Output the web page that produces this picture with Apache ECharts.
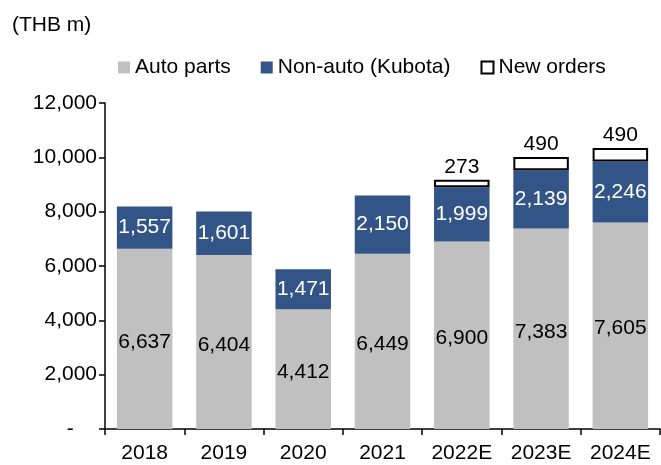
<!DOCTYPE html>
<html>
<head>
<meta charset="utf-8">
<script src="https://cdn.jsdelivr.net/npm/echarts@6/dist/echarts.min.js"></script>
<style>
  html, body { margin: 0; padding: 0; background: #fff; }
  #chart { width: 661px; height: 465px; }
</style>
</head>
<body>
<div id="chart"></div>
<script>
const years = ['2018', '2019', '2020', '2021', '2022E', '2023E', '2024E'];
const autoParts = [6637, 6404, 4412, 6449, 6900, 7383, 7605];
const nonAuto = [1557, 1601, 1471, 2150, 1999, 2139, 2246];
const newOrders = [null, null, null, null, 273, 490, 490];
const yTicks = [0, 2000, 4000, 6000, 8000, 10000, 12000];

const font = 'Liberation Sans, Arial, sans-serif';
const fs = 21;
const fmt = v => v.toLocaleString('en-US');

const chart = echarts.init(document.getElementById('chart'));

chart.setOption({
  animation: false,
  textStyle: { fontFamily: font },
  title: {
    text: '(THB m)',
    left: 7,
    top: 10,
    textStyle: { fontFamily: font, fontSize: fs, fontWeight: 'normal', color: '#000' }
  },
  legend: {
    top: 52,
    left: 113,
    icon: 'rect',
    itemWidth: 12,
    itemHeight: 12,
    itemGap: 30,
    textStyle: { fontFamily: font, fontSize: fs, color: '#000' },
    data: ['Auto parts', 'Non-auto (Kubota)', 'New orders']
  },
  grid: { left: 105, right: 1, top: 103, bottom: 36, containLabel: false },
  xAxis: {
    type: 'category',
    data: years,
    axisLine: { lineStyle: { color: '#000', width: 1.5 } },
    axisTick: { show: true, length: 6, lineStyle: { color: '#000', width: 1.5 } },
    axisLabel: { color: '#000', fontSize: fs, margin: 14, fontFamily: font }
  },
  yAxis: {
    type: 'value',
    min: yTicks[0],
    max: yTicks[yTicks.length - 1],
    interval: 2000,
    splitLine: { show: false },
    axisLine: { show: true, lineStyle: { color: '#000', width: 1.5 } },
    axisTick: { show: true, length: 6, lineStyle: { color: '#000', width: 1.5 } },
    axisLabel: {
      color: '#000',
      fontSize: fs,
      margin: 8,
      fontFamily: font,
      formatter: v => (v === 0 ? '-    ' : fmt(v))
    }
  },
  series: [
    {
      name: 'Auto parts',
      type: 'bar',
      stack: 'total',
      barCategoryGap: '30%',
      data: autoParts,
      itemStyle: { color: '#C0C0C0' },
      label: {
        show: true,
        position: 'inside',
        offset: [0, 3],
        color: '#000',
        fontSize: fs,
        fontFamily: font,
        formatter: p => fmt(p.value)
      }
    },
    {
      name: 'Non-auto (Kubota)',
      type: 'bar',
      stack: 'total',
      data: nonAuto,
      itemStyle: { color: '#335486' },
      label: {
        show: true,
        position: 'inside',
        color: '#fff',
        fontSize: fs,
        fontFamily: font,
        formatter: p => fmt(p.value)
      }
    },
    {
      name: 'New orders',
      type: 'bar',
      stack: 'total',
      data: newOrders,
      itemStyle: { color: '#fff', borderColor: '#000', borderWidth: 2 },
      label: {
        show: true,
        position: 'top',
        distance: 2,
        color: '#000',
        fontSize: fs,
        fontFamily: font,
        formatter: p => (p.value ? fmt(p.value) : '')
      }
    }
  ]
});
</script>
</body>
</html>
